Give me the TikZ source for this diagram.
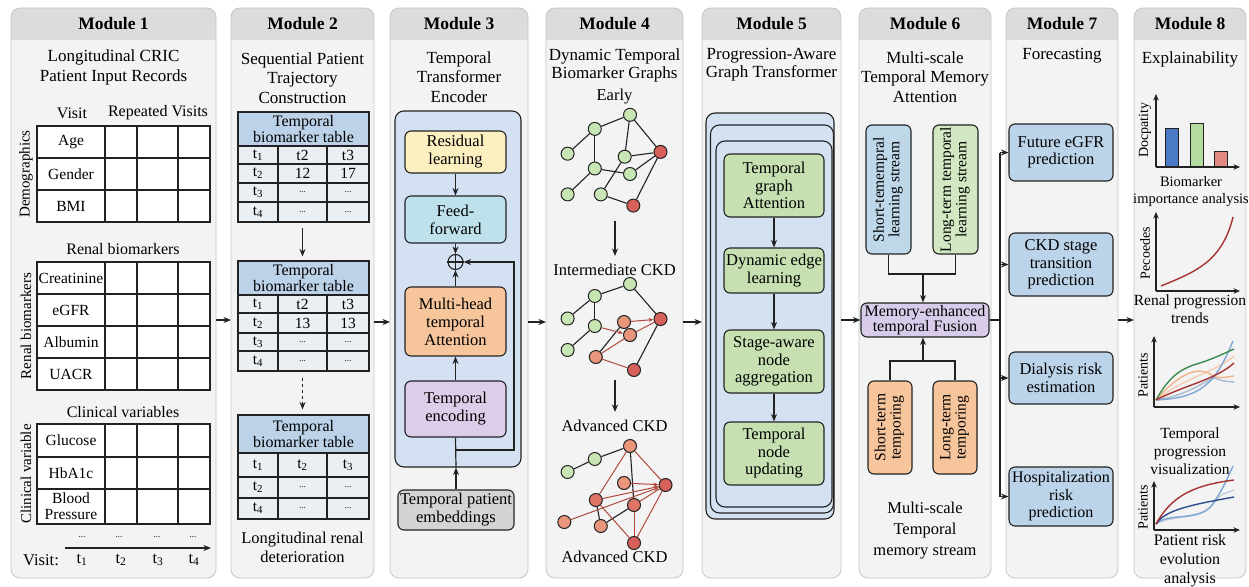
\documentclass[tikz,border=0pt]{standalone}
\usepackage{fontspec}
\setmainfont{Liberation Serif}
\usetikzlibrary{arrows.meta}
\definecolor{panelfill}{HTML}{F3F3F3}
\definecolor{panelline}{HTML}{C6C6C6}
\definecolor{hdrfill}{HTML}{DCDCDC}
\definecolor{ink}{HTML}{222222}
\definecolor{tblhead}{HTML}{BCD2E8}
\definecolor{tblcell}{HTML}{EAEFF4}
\definecolor{encfill}{HTML}{D3E1F2}
\definecolor{yelbox}{HTML}{FCEFC0}
\definecolor{cyanbox}{HTML}{BFE1EC}
\definecolor{orngbox}{HTML}{F7C59C}
\definecolor{lavbox}{HTML}{DCCDE8}
\definecolor{grybox}{HTML}{D4D4D4}
\definecolor{ngreen}{HTML}{C8E6B4}
\definecolor{nred}{HTML}{D8605A}
\definecolor{nsalm}{HTML}{E8957C}
\definecolor{nmid}{HTML}{DE7566}
\definecolor{edgered}{HTML}{B04A3E}
\definecolor{gbox}{HTML}{C6E0B2}
\definecolor{cardfill}{HTML}{D3E1F1}
\definecolor{bbox}{HTML}{BED8EA}
\definecolor{lgbox}{HTML}{D2E8C2}
\definecolor{fusfill}{HTML}{D9CCEB}
\definecolor{fcbox}{HTML}{BCD4EA}
\definecolor{barblue}{HTML}{4A7AC6}
\definecolor{bargreen}{HTML}{B5DCA0}
\definecolor{barred}{HTML}{E28A82}
\definecolor{cgreen}{HTML}{3C8C50}
\definecolor{cred}{HTML}{A83232}
\definecolor{corange}{HTML}{F2B58A}
\definecolor{clblue}{HTML}{7EA6D6}
\definecolor{cgray}{HTML}{A9B8CC}
\definecolor{cdblue}{HTML}{2E4C8C}
\newcommand{\tdots}{{\fontsize{9}{9}\selectfont ...}}
\newcommand{\tsb}[1]{t\textsubscript{#1}}
\newcommand{\mrow}[4]{%
 \node[cellA, minimum width=68pt, minimum height=#3pt] (#1) at (71,#2) {#4};
 \node[cellA, minimum width=32pt, minimum height=#3pt] (#1b) at (121,#2) {};
 \node[cellA, minimum width=41pt, minimum height=#3pt] (#1c) at (157.5,#2) {};
 \node[cellA, minimum width=32pt, minimum height=#3pt] (#1d) at (194,#2) {};}
\newcommand{\brow}[6]{%
 \node[cellB, minimum width=40pt, minimum height=#3pt] (#1a) at (258,#2) {#4};
 \node[cellB, minimum width=49pt, minimum height=#3pt] (#1b) at (302.5,#2) {#5};
 \node[cellB, minimum width=42pt, minimum height=#3pt] (#1c) at (348,#2) {#6};}
\newcommand{\vtext}[2]{\rotatebox{90}{\renewcommand{\arraystretch}{0.9}\begin{tabular}{@{}c@{}}#1\\#2\end{tabular}}}
\begin{document}
\begin{tikzpicture}[x=1pt,y=-1pt,
  panel/.style={draw=panelline, line width=0.8pt, fill=panelfill, rounded corners=9pt, inner sep=0pt, outer sep=0pt,
    path picture={\fill[hdrfill, sharp corners] (path picture bounding box.north west) rectangle ([yshift=-32pt]path picture bounding box.north east);}},
  hdr/.style={font=\fontsize{17.5}{20}\selectfont\bfseries, inner sep=0pt},
  ttl/.style={font=\fontsize{17}{19.5}\selectfont, align=center, inner sep=0pt},
  lbl/.style={font=\fontsize{16}{18}\selectfont, align=center, inner sep=0pt},
  rlbl/.style={font=\fontsize{15}{17}\selectfont, rotate=90, inner sep=0pt},
  cellA/.style={draw=ink, line width=1.1pt, fill=white, inner sep=0pt, font=\fontsize{15.5}{16}\selectfont, align=center},
  cellB/.style={draw=ink, line width=1.1pt, fill=tblcell, inner sep=0pt, font=\fontsize{15.5}{15}\selectfont},
  thead/.style={draw=ink, line width=1.1pt, fill=tblhead, inner sep=0pt, font=\fontsize{16}{14.5}\selectfont, align=center, minimum width=131pt},
  box/.style={draw=ink, line width=1.1pt, rounded corners=6pt, align=center, inner sep=1pt, font=\fontsize{16.5}{18}\selectfont},
  card/.style={draw=ink, line width=1.1pt, rounded corners=9pt, fill=cardfill, inner sep=0pt},
  gn/.style={circle, draw=ink, line width=1pt, minimum size=13pt, inner sep=0pt},
  arr/.style={draw=ink, line width=1.2pt, -{Stealth[length=7.5pt,width=6pt]}},
  ln/.style={draw=ink, line width=1.2pt},
  ge/.style={draw=ink, line width=1.1pt},
  re/.style={draw=edgered, line width=1pt},
  rea/.style={draw=edgered, line width=1pt, -{Stealth[length=5pt,width=4pt]}},
  crv/.style={line width=1.4pt},
  axarr/.style={draw=ink, line width=1.2pt, -{Stealth[length=6.5pt,width=5.5pt]}},
]
\useasboundingbox (0,0) rectangle (1249,586);
\fill[white] (0,0) rectangle (1249,586);
\coordinate (ymid) at (0,322);
\coordinate (ymid2) at (0,320);

% ---------- panels ----------
\node[panel, minimum width=205pt, minimum height=570pt] (p1) at (113.5,293) {};
\node[panel, minimum width=143pt, minimum height=570pt] (p2) at (302.5,293) {};
\node[panel, minimum width=138pt, minimum height=570pt] (p3) at (459,293) {};
\node[panel, minimum width=137pt, minimum height=570pt] (p4) at (614.5,293) {};
\node[panel, minimum width=139pt, minimum height=570pt] (p5) at (771.5,293) {};
\node[panel, minimum width=132pt, minimum height=570pt] (p6) at (925,293) {};
\node[panel, minimum width=112pt, minimum height=570pt] (p7) at (1062,293) {};
\node[panel, minimum width=112pt, minimum height=570pt] (p8) at (1190,293) {};
\node[hdr] (h1) at (113.5,24) {Module 1};
\node[hdr] (h2) at (302.5,24) {Module 2};
\node[hdr] (h3) at (459,24) {Module 3};
\node[hdr] (h4) at (614.5,24) {Module 4};
\node[hdr] (h5) at (771.5,24) {Module 5};
\node[hdr] (h6) at (925,24) {Module 6};
\node[hdr] (h7) at (1062,24) {Module 7};
\node[hdr] (h8) at (1190,24) {Module 8};

% ---------- Module 1 ----------
\node[ttl] (t1) at (113.5,67.5) {Longitudinal CRIC\\Patient Input Records};
\node[lbl, font=\fontsize{16}{17}\selectfont] (vis) at (72,113) {Visit};
\node[lbl, font=\fontsize{16}{17}\selectfont] (rep) at (158,113) {Repeated Visits};
\mrow{age}{142}{32}{Age}
\mrow{gen}{174}{32}{Gender}
\mrow{bmi}{206}{32}{BMI}
\node[lbl] (rbt) at (123,249) {Renal biomarkers};
\mrow{cre}{278}{32}{Creatinine}
\mrow{egf}{310}{32}{eGFR}
\mrow{alb}{342}{32}{Albumin}
\mrow{uac}{374}{32}{UACR}
\node[lbl] (cvt) at (123,412) {Clinical variables};
\mrow{glu}{440.5}{33}{Glucose}
\mrow{hba}{473}{32}{HbA1c}
\mrow{bpr}{506.5}{35}{Blood\\Pressure}
\node[rlbl] (dem) at (26,174) {Demographics};
\node[rlbl] (rbl) at (26,326) {Renal biomarkers};
\node[rlbl] (cvl) at (26,474) {Clinical variable};
\node[lbl] (d1) at (82,537) {\tdots};
\node[lbl] (d2) at (119,537) {\tdots};
\node[lbl] (d3) at (157,537) {\tdots};
\node[lbl] (d4) at (193,537) {\tdots};
\coordinate (ax0) at (65,548);
\coordinate (ax1) at (211,548);
\draw[arr] (ax0) -- (ax1);
\node[lbl, font=\fontsize{16.5}{18}\selectfont] (vl) at (41,560) {Visit:};
\node[lbl, font=\fontsize{16.5}{18}\selectfont] (v1) at (82,560) {\tsb1};
\node[lbl, font=\fontsize{16.5}{18}\selectfont] (v2) at (121,560) {\tsb2};
\node[lbl, font=\fontsize{16.5}{18}\selectfont] (v3) at (158,560) {\tsb3};
\node[lbl, font=\fontsize{16.5}{18}\selectfont] (v4) at (194,560) {\tsb4};

% ---------- Module 2 ----------
\node[ttl] (t2) at (302.5,78) {Sequential Patient\\Trajectory\\Construction};
\node[thead, minimum height=34pt] (ta) at (303.5,129) {Temporal\\biomarker table};
\brow{ta1}{155}{18}{\tsb1}{t2}{t3}
\brow{ta2}{173.5}{19}{\tsb2}{12}{17}
\brow{ta3}{192.5}{19}{\tsb3}{\tdots}{\tdots}
\brow{ta4}{212}{20}{\tsb4}{\tdots}{\tdots}
\node[thead, minimum height=34pt] (tb) at (303.5,278) {Temporal\\biomarker table};
\brow{tb1}{304}{18}{\tsb1}{t2}{t3}
\brow{tb2}{323}{20}{\tsb2}{13}{13}
\brow{tb3}{342}{18}{\tsb3}{\tdots}{\tdots}
\brow{tb4}{361}{20}{\tsb4}{\tdots}{\tdots}
\node[thead, minimum height=38pt] (tc) at (303.5,434) {Temporal\\biomarker table};
\brow{tc1}{465}{24}{\tsb1}{\tsb2}{\tsb3}
\brow{tc2}{487.5}{21}{\tsb2}{\tdots}{\tdots}
\brow{tc3}{508.5}{21}{\tsb4}{\tdots}{\tdots}
\draw[arr, shorten <=5pt, shorten >=4pt] (ta4b.south) -- (ta4b.south |- tb.north);
\draw[arr, dashed, shorten <=6pt, shorten >=5pt] (tb4b.south) -- (tb4b.south |- tc.north);
\node[lbl, font=\fontsize{16.5}{19}\selectfont] (t2b) at (302.5,547.5) {Longitudinal renal\\deterioration};

% ---------- Module 3 ----------
\node[ttl] (t3) at (459,77) {Temporal\\Transformer\\Encoder};
\node[box, fill=encfill, rounded corners=9pt, minimum width=126pt, minimum height=356pt] (enc) at (458,289) {};
\node[box, fill=yelbox, minimum width=101pt, minimum height=42pt] (res) at (455.5,152) {Residual\\learning};
\node[box, fill=cyanbox, minimum width=101pt, minimum height=47pt] (ff) at (455.5,219.5) {Feed-\\forward};
\node[circle, draw=ink, line width=1.1pt, minimum size=15pt, inner sep=0pt] (plus) at (455.5,262) {};
\draw[line width=1.1pt, draw=ink] (plus.north) -- (plus.south) (plus.west) -- (plus.east);
\node[box, fill=orngbox, minimum width=101pt, minimum height=69pt] (mha) at (455.5,321.5) {Multi-head\\temporal\\Attention};
\node[box, fill=lavbox, minimum width=101pt, minimum height=56pt] (tenc) at (455.5,409) {Temporal\\encoding};
\node[box, fill=grybox, minimum width=116pt, minimum height=40pt] (emb) at (456,510) {Temporal patient\\embeddings};
\draw[arr] (res.south) -- (ff.north);
\draw[arr] (ff.south) -- (plus.north);
\draw[arr] (mha.north) -- (plus.south);
\draw[arr] (tenc.north) -- (mha.south);
\draw[arr] (emb.north) -- (emb.north |- enc.south);
\draw[ln] (emb.north |- enc.south) -- (tenc.south);
\coordinate (fbk) at (514,450);
\draw[arr] (tenc.south |- fbk) -- (fbk) |- (plus.east);

% ---------- Module 4 ----------
\node[ttl, font=\fontsize{17}{18}\selectfont] (t4) at (614.5,65) {Dynamic Temporal\\Biomarker Graphs};
\node[lbl, font=\fontsize{16.5}{18}\selectfont] (early) at (614.5,97) {Early};
\node[lbl, font=\fontsize{16.5}{18}\selectfont] (inter) at (614.5,270) {Intermediate CKD};
\node[lbl, font=\fontsize{16.5}{18}\selectfont] (adv1) at (614.5,426) {Advanced CKD};
\node[lbl, font=\fontsize{16.5}{18}\selectfont] (adv2) at (614.5,557) {Advanced CKD};
\coordinate (g1s) at (615,221);
\coordinate (g1e) at (615,256);
\coordinate (g2s) at (615,380);
\coordinate (g2e) at (615,412);
\draw[arr] (g1s) -- (g1e);
\draw[arr] (g2s) -- (g2e);
% graph 1
\node[gn, fill=ngreen] (ea) at (567.6,153.7) {};
\node[gn, fill=ngreen] (eb) at (594.8,128.9) {};
\node[gn, fill=ngreen] (ec) at (630,114.8) {};
\node[gn, fill=ngreen] (ed) at (624.7,156.7) {};
\node[gn, fill=nred] (ee) at (660.5,151.9) {};
\node[gn, fill=ngreen] (ef) at (594.8,168.5) {};
\node[gn, fill=ngreen] (eg) at (630,174) {};
\node[gn, fill=ngreen] (eh) at (567.6,194.4) {};
\node[gn, fill=ngreen] (ei) at (600.8,194.4) {};
\node[gn, fill=nred] (ej) at (633.3,205.6) {};
\foreach \u/\v in {ea/eb, eb/ec, eb/ef, ec/ed, ec/ee, ed/ee, ef/eh, ef/eg, eg/ee, ei/ed, ei/ej, ej/ee}
  \draw[ge] (\u) -- (\v);
% graph 2
\node[gn, fill=ngreen] (ia) at (567.6,318.5) {};
\node[gn, fill=ngreen] (ib) at (594.8,296) {};
\node[gn, fill=ngreen] (ic) at (630,284) {};
\node[gn, fill=nsalm] (id) at (624,322) {};
\node[gn, fill=nred] (ie) at (660.5,319) {};
\node[gn, fill=ngreen] (if) at (594.8,326) {};
\node[gn, fill=nsalm] (ig) at (630,335) {};
\node[gn, fill=ngreen] (ih) at (567.6,350) {};
\node[gn, fill=nsalm] (ii) at (595.8,357) {};
\node[gn, fill=nred] (ij) at (634,370) {};
\foreach \u/\v in {ia/ib, ib/ic, ic/ie, ib/if, if/ih, id/ii, ij/ie}
  \draw[ge] (\u) -- (\v);
\foreach \u/\v in {ig/ie, ii/ig, ii/ij}
  \draw[re] (\u) -- (\v);
\draw[rea] (if) -- (ig);
\draw[rea] (id) -- (ie);
% graph 3
\node[gn, fill=ngreen] (aa) at (567.6,472) {};
\node[gn, fill=ngreen] (ab) at (594.8,459) {};
\node[gn, fill=nsalm] (ac) at (630,446) {};
\node[gn, fill=nsalm] (ad) at (624,483) {};
\node[gn, fill=nred] (ae) at (665.5,485) {};
\node[gn, fill=nmid] (af) at (595.8,500) {};
\node[gn, fill=nmid] (ag) at (634,505) {};
\node[gn, fill=nsalm] (ah) at (564.3,522) {};
\node[gn, fill=nsalm] (ai) at (600.8,526) {};
\node[gn, fill=nred] (aj) at (634,543) {};
\foreach \u/\v in {aa/ab, ab/ac, ac/ag, ai/ag, af/ai}
  \draw[ge] (\u) -- (\v);
\foreach \u/\v in {ac/ae, ac/af, ag/ae, af/aj, ag/aj, aj/ae}
  \draw[re] (\u) -- (\v);
\draw[rea] (ad) -- (ae);
\draw[rea] (af) -- (ae);
\draw[rea] (ah) -- (ae);

% ---------- Module 5 ----------
\node[ttl, font=\fontsize{17}{18}\selectfont] (t5) at (771.5,65) {Progression-Aware\\Graph Transformer};
\node[card, minimum width=128pt, minimum height=406pt] (c1) at (770,316) {};
\node[card, minimum width=123pt, minimum height=388pt] (c2) at (772,319) {};
\node[card, minimum width=116pt, minimum height=366pt] (c3) at (774,324) {};
\node[box, fill=gbox, minimum width=100pt, minimum height=63pt, font=\fontsize{16.5}{17.5}\selectfont] (gb1) at (774,185.5) {Temporal\\graph\\Attention};
\node[box, fill=gbox, minimum width=100pt, minimum height=45pt, font=\fontsize{16.5}{17.5}\selectfont] (gb2) at (774,270.5) {Dynamic edge\\learning};
\node[box, fill=gbox, minimum width=100pt, minimum height=63pt, font=\fontsize{16.5}{17.5}\selectfont] (gb3) at (774,361.5) {Stage-aware\\node\\aggregation};
\node[box, fill=gbox, minimum width=100pt, minimum height=63pt, font=\fontsize{16.5}{17.5}\selectfont] (gb4) at (774,453.5) {Temporal\\node\\updating};
\draw[arr] (gb1.south) -- (gb2.north);
\draw[arr] (gb2.south) -- (gb3.north);
\draw[arr] (gb3.south) -- (gb4.north);

% ---------- Module 6 ----------
\node[ttl] (t6) at (925,77) {Multi-scale\\Temporal Memory\\Attention};
\node[box, fill=bbox, minimum width=45pt, minimum height=129pt, font=\fontsize{15.5}{17}\selectfont] (sst) at (888.5,189.5) {\vtext{Short-temempral}{learning stream}};
\node[box, fill=lgbox, minimum width=45pt, minimum height=129pt, font=\fontsize{15.5}{17}\selectfont] (lst) at (955.5,189.5) {\vtext{Long-term temporal}{learning stream}};
\node[box, fill=fusfill, minimum width=128pt, minimum height=34pt, inner sep=0pt, font=\fontsize{16}{15.5}\selectfont] (fus) at (925,320) {Memory-enhanced\\temporal Fusion};
\node[box, fill=orngbox, minimum width=44pt, minimum height=93pt, font=\fontsize{15.5}{17}\selectfont] (ost) at (890,427.5) {\vtext{Short-term}{temporing}};
\node[box, fill=orngbox, minimum width=44pt, minimum height=93pt, font=\fontsize{15.5}{17}\selectfont] (olt) at (955,427.5) {\vtext{Long-term}{temporing}};
\coordinate (j1) at (923,274);
\coordinate (j2) at (923,361);
\draw[ln] (sst.south) -- (sst.south |- j1) -- (lst.south |- j1) -- (lst.south);
\draw[arr] (j1) -- (j1 |- fus.north);
\draw[ln] (ost.north) -- (ost.north |- j2) -- (olt.north |- j2) -- (olt.north);
\draw[arr] (j2) -- (j2 |- fus.south);
\node[lbl, font=\fontsize{16.5}{21}\selectfont] (t6b) at (925,530.5) {Multi-scale\\Temporal\\memory stream};

% ---------- Module 7 ----------
\node[ttl] (t7) at (1062,56) {Forecasting};
\node[box, fill=fcbox, minimum width=104pt, minimum height=57pt, font=\fontsize{16.5}{17.5}\selectfont] (f1) at (1061,152.5) {Future eGFR\\prediction};
\node[box, fill=fcbox, minimum width=104pt, minimum height=63pt, font=\fontsize{16.5}{17.5}\selectfont] (f2) at (1061,264.5) {CKD stage\\transition\\prediction};
\node[box, fill=fcbox, minimum width=104pt, minimum height=52pt, font=\fontsize{16.5}{17.5}\selectfont] (f3) at (1061,378) {Dialysis risk\\estimation};
\node[box, fill=fcbox, minimum width=104pt, minimum height=59pt, inner sep=0pt, font=\fontsize{16}{17.5}\selectfont] (f4) at (1061,496.5) {Hospitalization\\risk\\prediction};
\coordinate (bus) at (1000,320);
\draw[ln] (fus.east) -- (bus |- fus.east);
\draw[ln] (bus |- f1.west) -- (bus |- f4.west);
\foreach \f in {f1,f2,f3,f4}
  \draw[arr] (bus |- \f.west) -- (\f.west);

% ---------- Module 8 ----------
\node[ttl] (t8) at (1190,59) {Explainability};
% chart 1
\draw[ink, line width=1pt, fill=barblue] (1165,128) rectangle (1178,167);
\draw[ink, line width=1pt, fill=bargreen] (1190,123) rectangle (1203,167);
\draw[ink, line width=1pt, fill=barred] (1214,151) rectangle (1227,167);
\draw[axarr] (1156,167) -- (1156,94);
\draw[axarr] (1156,167) -- (1240,167);
\node[rlbl, font=\fontsize{14}{16}\selectfont] (yl1) at (1145,130) {Docpatity};
\node[lbl, font=\fontsize{14.5}{17}\selectfont] (cap1) at (1191,191.5) {Biomarker\\importance analysis};
% chart 2
\draw[axarr] (1156,291) -- (1156,212);
\draw[axarr] (1156,291) -- (1240,291);
\draw[crv, cred] (1161,286) .. controls (1195,272) and (1222,262) .. (1233,217);
\node[rlbl, font=\fontsize{14}{16}\selectfont] (yl2) at (1145,253) {Pecoedes};
\node[lbl, font=\fontsize{15.5}{18}\selectfont] (cap2) at (1190,309) {Renal progression\\trends};
% chart 3
\draw[crv, cgray] (1156,400) .. controls (1190,395) and (1205,380) .. (1215,378) .. controls (1222,381) .. (1234,382);
\draw[crv, corange!70] (1156,400) .. controls (1180,380) and (1215,372) .. (1234,356);
\draw[crv, corange] (1156,400) .. controls (1175,378) and (1195,365) .. (1210,374) .. controls (1218,380) and (1225,377) .. (1234,376);
\draw[crv, clblue] (1156,400) .. controls (1200,398) and (1215,385) .. (1233,341);
\draw[crv, cgreen] (1156,400) .. controls (1170,375) and (1182,368) .. (1200,363) .. controls (1215,358) and (1225,353) .. (1234,349);
\draw[crv, cred] (1156,400) .. controls (1185,385) and (1215,380) .. (1234,363);
\draw[axarr] (1154,407) -- (1154,336);
\draw[axarr] (1154,407) -- (1240,407);
\node[rlbl, font=\fontsize{14}{16}\selectfont] (yl3) at (1143,375) {Patients};
\node[lbl, font=\fontsize{15.5}{18}\selectfont] (cap3) at (1190,451) {Temporal\\progression\\visualization};
% chart 4
\draw[crv, cgray!70] (1156,524) .. controls (1170,515) and (1200,520) .. (1212,505) .. controls (1220,495) .. (1234,490);
\draw[crv, clblue] (1156,524) .. controls (1168,512) and (1200,522) .. (1212,505) .. controls (1222,490) .. (1233,466);
\draw[crv, cdblue] (1156,524) .. controls (1165,510) and (1190,505) .. (1234,497);
\draw[crv, cred] (1156,524) .. controls (1172,495) and (1195,485) .. (1234,480);
\draw[axarr] (1154,530) -- (1154,481);
\draw[axarr] (1154,530) -- (1240,530);
\node[rlbl, font=\fontsize{14}{16}\selectfont] (yl4) at (1143,507) {Patients};
\node[lbl, font=\fontsize{16}{19}\selectfont] (cap4) at (1190,561) {Patient risk\\evolution\\analysis};

% ---------- inter-module arrows ----------
\draw[arr] (p1.east |- ymid2) -- (p2.west |- ymid2);
\draw[arr] (p2.east |- ymid) -- (p3.west |- ymid);
\draw[arr] (p3.east |- ymid) -- (p4.west |- ymid);
\draw[arr] (p4.east |- ymid) -- (p5.west |- ymid);
\draw[arr] (p5.east |- fus.west) -- (fus.west);
\draw[arr] (p7.east |- ymid2) -- (p8.west |- ymid2);
\end{tikzpicture}
\end{document}
